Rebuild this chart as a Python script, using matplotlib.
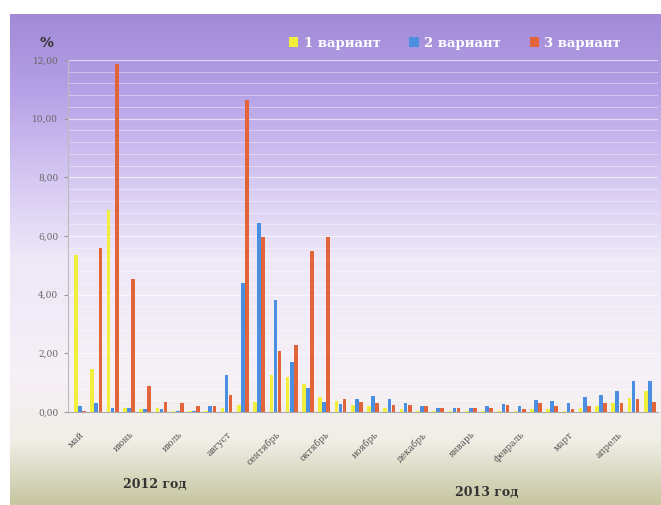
import numpy as np
import matplotlib
matplotlib.use("Agg")
from matplotlib import pyplot as plt

MONTHS = ["май", "июнь", "июль", "август", "сентябрь", "октябрь",
          "ноябрь", "декабрь", "январь", "февраль", "март", "апрель"]
SERIES = ["1 вариант", "2 вариант", "3 вариант"]
COLORS = ["#f2ee3c", "#4a8fe2", "#e2643a"]

# three readings (decades) per month, May 2012 - April 2013
variant_1 = [5.35, 1.45, 6.9, 0.15, 0.1, 0.15, 0.05, 0.02, 0.05, 0.13, 0.23, 0.34,
             1.27, 1.2, 0.95, 0.5, 0.37, 0.25, 0.2, 0.15, 0.1, 0.05, 0.05, 0.05,
             0.05, 0.05, 0.05, 0.05, 0.1, 0.1, 0.05, 0.15, 0.2, 0.3, 0.48, 0.7]
variant_2 = [0.2, 0.3, 0.15, 0.15, 0.1, 0.1, 0.05, 0.05, 0.2, 1.25, 4.4, 6.44,
             3.83, 1.7, 0.82, 0.34, 0.28, 0.45, 0.55, 0.43, 0.3, 0.2, 0.15, 0.15,
             0.15, 0.2, 0.28, 0.2, 0.42, 0.38, 0.3, 0.5, 0.58, 0.73, 1.05, 1.07]
variant_3 = [0.02, 5.58, 11.85, 4.55, 0.87, 0.35, 0.3, 0.2, 0.2, 0.58, 10.65, 5.96,
             2.07, 2.29, 5.48, 5.95, 0.45, 0.35, 0.3, 0.25, 0.25, 0.2, 0.15, 0.15,
             0.15, 0.15, 0.25, 0.1, 0.3, 0.2, 0.1, 0.22, 0.3, 0.3, 0.45, 0.34]

W, H = 661, 505
fig = plt.figure(figsize=(W / 100, H / 100), dpi=100)
fig.patch.set_facecolor("white")

# slide background: purple at the top fading to white, olive at the bottom
stops = [(0.00, (162, 138, 215)), (0.15, (180, 160, 230)), (0.35, (216, 203, 243)),
         (0.50, (238, 232, 248)), (0.75, (246, 240, 246)), (0.87, (240, 238, 230)),
         (1.00, (198, 198, 160))]
t = np.linspace(0, 1, 400)
pos = [s[0] for s in stops]
grad = np.stack([np.interp(t, pos, [s[1][c] for s in stops]) for c in range(3)], axis=1) / 255
bg = fig.add_axes([10 / W, 0, 1 - 10 / W, 1 - 14 / H], zorder=-2)
bg.imshow(grad[:, None, :], aspect="auto", extent=[0, 1, 0, 1])
bg.set_axis_off()

ax = fig.add_axes([68 / W, 1 - 412 / H, 590 / W, 352 / H])
ax.set_facecolor("none")

x = np.arange(len(variant_1))
bw = 0.25
for i, (vals, color, name) in enumerate(zip([variant_1, variant_2, variant_3], COLORS, SERIES)):
    ax.bar(x + (i - 1) * bw, vals, width=bw * 0.9, color=color, label=name, zorder=3)

ax.set_xlim(-0.74, len(x) - 0.5)
ax.set_ylim(0, 12)
ax.set_yticks(np.arange(0, 12.01, 2))
ax.set_yticklabels([f"{v:.2f}".replace(".", ",") for v in np.arange(0, 12.01, 2)],
                   family="DejaVu Serif", fontsize=6.5, color="#666666")
ax.set_yticks(np.arange(0, 12.01, 0.4), minor=True)
ax.tick_params(axis="y", which="major", length=3, color="#999999", pad=4)
ax.tick_params(axis="y", which="minor", length=0)
ax.grid(axis="y", which="major", color="white", linewidth=0.9, alpha=0.6, zorder=0)
ax.grid(axis="y", which="minor", color="white", linewidth=0.6, alpha=0.45, zorder=0)

ax.set_xticks(x[::3])
ax.set_xticklabels(MONTHS, rotation=45, ha="right", rotation_mode="anchor",
                   family="DejaVu Serif", fontsize=6.5, color="#555555")
ax.tick_params(axis="x", length=0, pad=13)

for side in ["top", "right"]:
    ax.spines[side].set_visible(False)
ax.spines["left"].set_color("#bbbbbb")
ax.spines["bottom"].set_color("#aaaaaa")

fig.text(40 / W, 1 - 43 / H, "%", fontsize=10, fontweight="bold", color="#333333",
         ha="left", va="center", family="DejaVu Sans")
fig.text(155 / W, 1 - 485 / H, "2012 год", fontsize=9, fontweight="bold", color="#333333",
         ha="center", va="center", family="DejaVu Serif")
fig.text(487 / W, 1 - 492 / H, "2013 год", fontsize=9, fontweight="bold", color="#333333",
         ha="center", va="center", family="DejaVu Serif")

leg = fig.legend(loc="center", bbox_to_anchor=(455 / W, 1 - 43 / H), ncol=3, frameon=False,
                 handlelength=0.7, handleheight=0.7, handletextpad=0.4, columnspacing=2.2,
                 prop={"family": "DejaVu Serif", "weight": "bold", "size": 9.5})
for txt in leg.get_texts():
    txt.set_color("white")

fig.savefig("out.png", dpi=100)
